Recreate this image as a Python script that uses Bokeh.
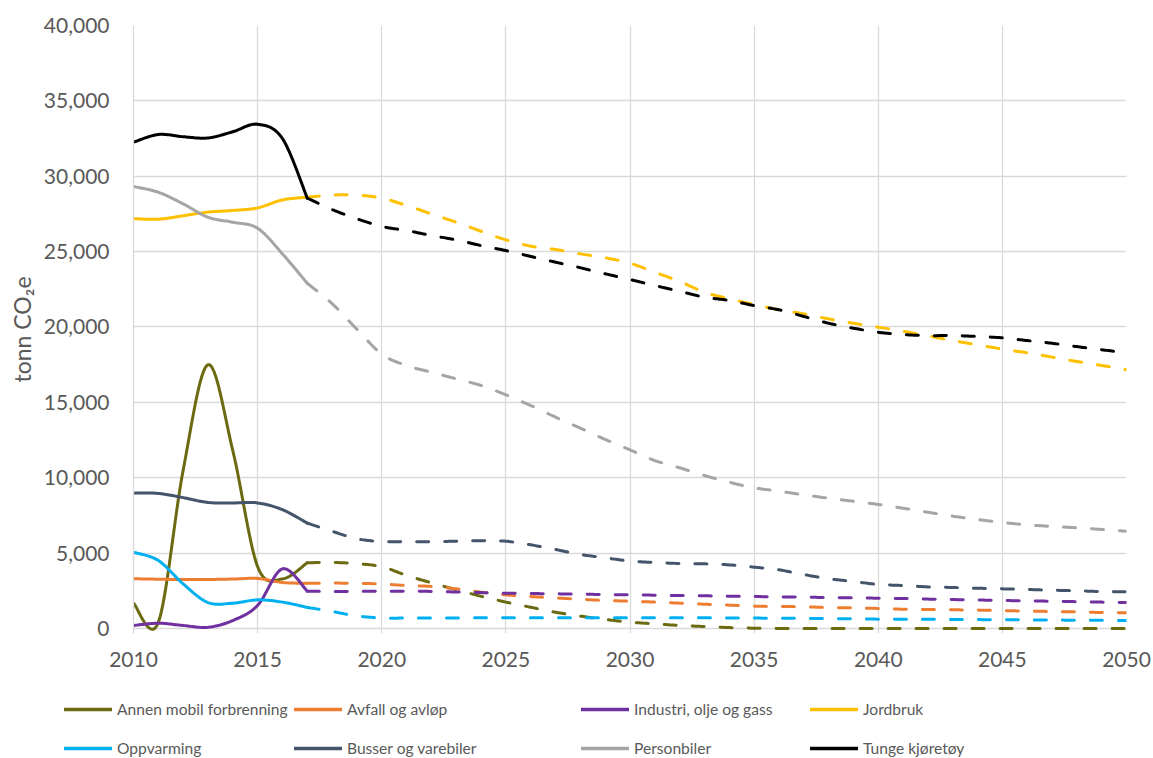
import numpy as np
from bokeh.plotting import figure
from bokeh.layouts import column
from bokeh.models import Legend, LegendItem, NumeralTickFormatter, FixedTicker, Range1d
from bokeh.embed import file_html
from bokeh.resources import INLINE

# Historical emissions (2010-2017) and projection (2017-2050), tonn CO2e
years_hist = list(range(2010, 2018))
years_proj = list(range(2017, 2051))

annen_hist = [1680, 400, 10500, 17500, 11800, 4100, 3290, 4360]
annen_proj = [4360, 4380, 4300, 4100, 3520, 3030, 2570, 2140, 1750, 1410,
              1080, 820, 600, 420, 310, 200, 130, 60, 20, 0,
              0, 0, 0, 0, 0, 0, 0, 0, 0, 0,
              0, 0, 0, 0]

avfall_hist = [3300, 3270, 3250, 3250, 3280, 3320, 3050, 3000]
avfall_proj = [3000, 3010, 3000, 2950, 2850, 2790, 2630, 2410, 2230, 2120,
               2030, 1940, 1860, 1810, 1750, 1680, 1610, 1550, 1480, 1460,
               1440, 1390, 1370, 1330, 1280, 1260, 1240, 1220, 1190, 1150,
               1130, 1100, 1060, 1040]

industri_hist = [200, 350, 200, 80, 530, 1530, 3960, 2480]
industri_proj = [2480, 2450, 2460, 2470, 2470, 2460, 2420, 2380, 2340, 2320,
                 2300, 2280, 2250, 2230, 2210, 2190, 2170, 2140, 2120, 2100,
                 2080, 2050, 2030, 2010, 1990, 1950, 1920, 1890, 1860, 1830,
                 1810, 1780, 1750, 1720]

jordbruk_hist = [27190, 27150, 27380, 27620, 27730, 27900, 28430, 28610]
jordbruk_proj = [28610, 28750, 28750, 28550, 28060, 27500, 26950, 26350, 25780, 25360,
                 25140, 24850, 24590, 24230, 23630, 23020, 22310, 21870, 21490, 21140,
                 20870, 20540, 20250, 19990, 19720, 19410, 19100, 18820, 18530, 18290,
                 18000, 17710, 17450, 17160]

oppvarming_hist = [5060, 4510, 2960, 1720, 1680, 1900, 1750, 1400]
oppvarming_proj = [1400, 1130, 830, 700, 690, 690, 700, 710, 720, 720,
                   720, 720, 720, 720, 720, 720, 710, 690, 690, 680,
                   670, 660, 640, 620, 610, 610, 600, 590, 580, 570,
                   560, 550, 540, 530]

busser_hist = [8980, 8960, 8680, 8360, 8330, 8330, 7880, 6990]
busser_proj = [6990, 6450, 5950, 5770, 5750, 5760, 5790, 5820, 5790, 5550,
               5240, 4910, 4690, 4470, 4380, 4310, 4290, 4220, 4070, 3890,
               3580, 3300, 3120, 2920, 2850, 2760, 2720, 2670, 2630, 2590,
               2540, 2500, 2450, 2430]

personbiler_hist = [29320, 28940, 28170, 27280, 26950, 26550, 24850, 22900]
personbiler_proj = [22900, 21550, 19850, 18200, 17440, 17000, 16560, 16120, 15500, 14790,
                    14020, 13290, 12540, 11850, 11140, 10660, 10150, 9700, 9330, 9110,
                    8870, 8640, 8440, 8230, 7980, 7710, 7450, 7230, 7030, 6880,
                    6770, 6680, 6570, 6450]

tunge_hist = [32260, 32770, 32620, 32540, 32950, 33450, 32500, 28550]
tunge_proj = [28550, 27790, 27180, 26670, 26400, 26070, 25780, 25400, 25070, 24680,
              24300, 23930, 23530, 23150, 22750, 22370, 21980, 21760, 21420, 21140,
              20700, 20250, 19920, 19650, 19500, 19430, 19430, 19370, 19280, 19100,
              18920, 18700, 18490, 18290]

series = [
    ("Annen mobil forbrenning", "#6b6a10", annen_hist, annen_proj),
    ("Avfall og avløp", "#ED7D31", avfall_hist, avfall_proj),
    ("Industri, olje og gass", "#7030A0", industri_hist, industri_proj),
    ("Jordbruk", "#FFC000", jordbruk_hist, jordbruk_proj),
    ("Oppvarming", "#00B0F0", oppvarming_hist, oppvarming_proj),
    ("Busser og varebiler", "#44546A", busser_hist, busser_proj),
    ("Personbiler", "#A5A5A5", personbiler_hist, personbiler_proj),
    ("Tunge kjøretøy", "#000000", tunge_hist, tunge_proj),
]

y_ticks = list(range(0, 40001, 5000))
x_ticks = list(range(2010, 2051, 5))

FONT = "Lato"
TEXT = "#595959"
GRID = "#d9d9d9"
MAIN_LEFT = 133


def smooth(xs, ys, steps=16):
    """Smoothed line through the points (Catmull-Rom as cubic Bezier)."""
    x = np.asarray(xs, float)
    y = np.asarray(ys, float)
    xp = np.concatenate([[x[0]], x, [x[-1]]])
    yp = np.concatenate([[y[0]], y, [y[-1]]])
    t = np.linspace(0.0, 1.0, steps + 1)[1:]
    out_x, out_y = [x[0]], [y[0]]
    for i in range(len(x) - 1):
        p0x, p1x, p2x, p3x = xp[i], xp[i + 1], xp[i + 2], xp[i + 3]
        p0y, p1y, p2y, p3y = yp[i], yp[i + 1], yp[i + 2], yp[i + 3]
        c1x, c1y = p1x + (p2x - p0x) / 6, p1y + (p2y - p0y) / 6
        c2x, c2y = p2x - (p3x - p1x) / 6, p2y - (p3y - p1y) / 6
        a, b, c, d = (1 - t) ** 3, 3 * (1 - t) ** 2 * t, 3 * (1 - t) * t ** 2, t ** 3
        out_x.extend(a * p1x + b * c1x + c * c2x + d * p2x)
        out_y.extend(a * p1y + b * c1y + c * c2y + d * p2y)
    return out_x, out_y


# Main chart
p = figure(width=1153, height=680, output_backend="svg", toolbar_location=None,
           x_range=Range1d(2010, 2050), y_range=Range1d(-332, 40000),
           min_border_left=MAIN_LEFT, min_border_right=27, min_border_top=25,
           min_border_bottom=47)
p.outline_line_color = None
p.background_fill_color = "white"
p.border_fill_color = "white"

for ax in (p.xaxis[0], p.yaxis[0]):
    ax.major_tick_line_color = None
    ax.minor_tick_line_color = None
    ax.major_label_text_font = FONT
    ax.major_label_text_font_size = "21px"
    ax.major_label_text_color = TEXT

p.xaxis.ticker = FixedTicker(ticks=x_ticks)
p.xaxis.axis_line_color = None
p.xaxis.major_label_standoff = 12

p.yaxis.ticker = FixedTicker(ticks=y_ticks)
p.yaxis.formatter = NumeralTickFormatter(format="0,0")
p.yaxis.axis_line_color = GRID
p.yaxis.axis_line_width = 1.3
p.yaxis.major_label_standoff = 18
p.yaxis.axis_label = "tonn CO₂e"
p.yaxis.axis_label_text_font = FONT
p.yaxis.axis_label_text_font_size = "23px"
p.yaxis.axis_label_text_font_style = "normal"
p.yaxis.axis_label_text_color = TEXT
p.yaxis.axis_label_standoff = 5

p.xgrid.ticker = FixedTicker(ticks=x_ticks)
p.ygrid.ticker = FixedTicker(ticks=y_ticks)
for g in (p.xgrid[0], p.ygrid[0]):
    g.grid_line_color = GRID
    g.grid_line_width = 1.3

for name, color, hist, proj in series:
    hx, hy = smooth(years_hist, hist)
    px, py = smooth(years_proj, proj)
    p.line(px, py, line_color=color, line_width=3, line_dash="12 16",
           line_cap="round", line_join="round")
    p.line(hx, hy, line_color=color, line_width=3,
           line_cap="round", line_join="round")

# Legend strip under the chart: four columns of two entries
lg = figure(width=1153, height=78, output_backend="svg", toolbar_location=None,
            x_range=Range1d(0, 1), y_range=Range1d(0, 1),
            x_axis_type=None, y_axis_type=None, min_border=0)
lg.outline_line_color = None
lg.xgrid.visible = False
lg.ygrid.visible = False
lg.background_fill_color = "white"
lg.border_fill_color = "white"

# keep the strip's frame independent of the chart frame above it
independent = "frame_align" in lg.properties()
if independent:
    lg.frame_align = False
    p.frame_align = False

swatch = {}
for name, color, hist, proj in series:
    # swatch renderers sit outside the strip's ranges; only their legend glyphs show
    swatch[name] = lg.line(x=[-2, -1], y=[-2, -2], line_color=color,
                           line_width=3.5, line_cap="round")

columns = [
    ["Annen mobil forbrenning", "Oppvarming"],
    ["Avfall og avløp", "Busser og varebiler"],
    ["Industri, olje og gass", "Personbiler"],
    ["Jordbruk", "Tunge kjøretøy"],
]
if independent:
    col_left = [64, 294, 581, 810]
else:
    col_left = [0, 237, 448, 677]

for names, xoff in zip(columns, col_left):
    leg = Legend(items=[LegendItem(label=n, renderers=[swatch[n]]) for n in names],
                 location=(xoff, 0), orientation="vertical")
    leg.padding = 0
    leg.margin = 0
    leg.spacing = 19
    leg.glyph_width = 48
    leg.glyph_height = 20
    leg.label_height = 20
    leg.label_standoff = 5
    leg.label_text_font = FONT
    leg.label_text_font_size = "15.6px"
    leg.label_text_color = TEXT
    leg.border_line_color = None
    leg.background_fill_alpha = 0
    lg.add_layout(leg, "center")

layout = column(p, lg, spacing=0)
open("out.html", "w").write(file_html(layout, INLINE))
